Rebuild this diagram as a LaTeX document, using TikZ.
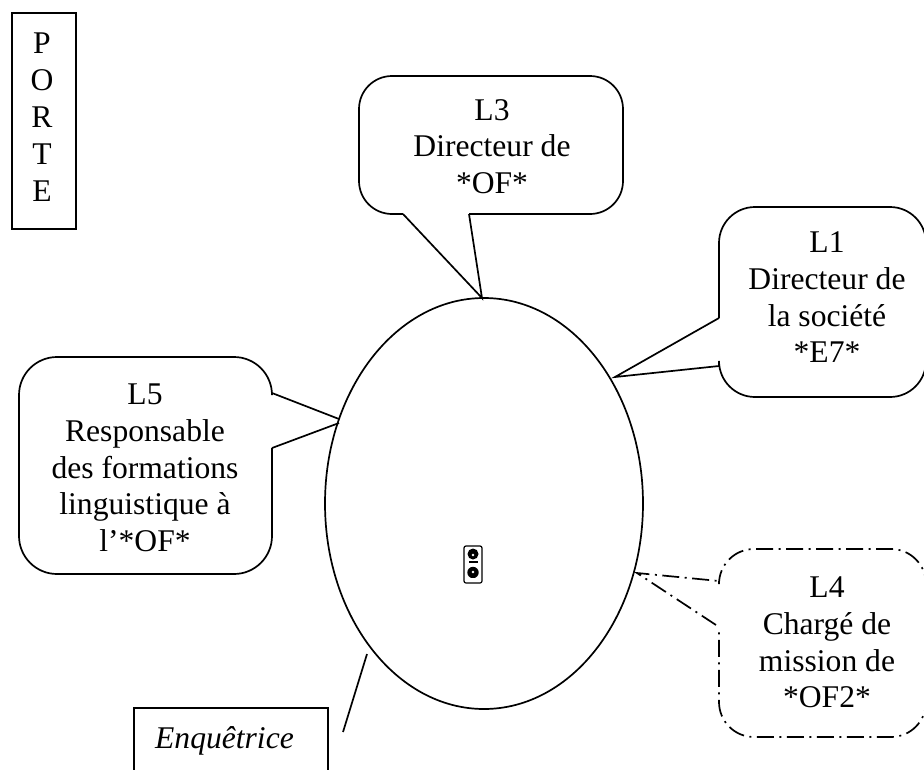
\documentclass[tikz,border=0pt]{standalone}
\usepackage{fontspec}
\setmainfont{Liberation Serif}
\usetikzlibrary{shapes.geometric}
\tikzset{
  outline/.style={draw=black,line width=1.7pt,line join=miter},
  dashline/.style={outline,dash pattern=on 17pt off 5.5pt on 2pt off 5.5pt},
  label/.style={align=center,inner sep=0pt,font=\fontsize{31.6}{36.7}\selectfont},
}
\begin{document}
\begin{tikzpicture}[x=1pt,y=-1pt]
\useasboundingbox (0,0) rectangle (924,769);
\clip (0,0) rectangle (924,769);
\fill[white] (0,0) rectangle (924,769);

% room
\node[ellipse,outline,minimum width=318pt,minimum height=411pt,inner sep=0pt] (room) at (484,503.5) {};

% door
\node[rectangle,outline,line width=2pt,minimum width=64pt,minimum height=216pt,inner sep=0pt] (porte) at (44,121) {};
\node[label,anchor=base] (pp) at (42,53) {P};
\node[label,anchor=base] (po) at (42,90) {O};
\node[label,anchor=base] (pr) at (42,127) {R};
\node[label,anchor=base] (pt) at (42,164) {T};
\node[label,anchor=base] (pe) at (42,201) {E};

% L3
\coordinate (t3) at (482,298);
\draw[outline] (403,214) -- (t3) -- (469,214);
\draw[outline,rounded corners=33pt] (469,214) -- (623,214) -- (623,76) -- (359,76) -- (359,214) -- (403,214);
\node[label] (l3) at (492,146.5) {L3\\Directeur de\\*OF*};

% L1
\coordinate (t1) at (615,377);
\draw[outline] (719,318) -- (t1) -- (719,366);
\draw[outline,rounded corners=36pt] (719,366) -- (719,397) -- (926,397) -- (926,207) -- (719,207) -- (719,318);
\node[label] (l1) at (827,297.5) {L1\\Directeur de\\la société\\*E7*};

% L5
\coordinate (t5a) at (339,419);
\coordinate (t5b) at (339,423);
\draw[outline] (272,393) -- (t5a) (t5b) -- (272,448);
\draw[outline,rounded corners=38pt] (272,448) -- (272,574) -- (19,574) -- (19,357) -- (272,357) -- (272,393);
\node[label] (l5) at (145,468) {L5\\Responsable\\des formations\\linguistique à\\l’*OF*};

% L4
\coordinate (t4) at (637,573);
\draw[dashline] (716,625) -- (t4) -- (719,581);
\draw[dashline,rounded corners=35pt] (719,581) -- (719,549) -- (926,549) -- (926,737) -- (719,737) -- (719,627);
\node[label] (l4) at (827,642.5) {L4\\Chargé de\\mission de\\*OF2*};

% interviewer
\coordinate (e1) at (367,654);
\coordinate (e2) at (343,732);
\draw[outline] (e1) -- (e2);
\draw[outline] (134,790) -- (134,708) -- (328,708) -- (328,790);
\node[label,anchor=base,font=\fontsize{31.6}{36.7}\selectfont\itshape] (enq) at (224.5,748) {Enquêtrice};

% socket
\draw[black,line width=1.2pt,rounded corners=2pt,fill=white] (464,546) rectangle (482,583);
\fill[black] (473,554) circle (5.5pt);
\fill[white] (473,555) circle (1.4pt);
\fill[black] (468.5,561.3) rectangle (477.5,563);
\begin{scope}
\clip (466,566) rectangle (480,577);
\fill[black] (473,572.5) circle (5.7pt);
\end{scope}
\fill[white] (473,572) circle (1.4pt);
\end{tikzpicture}
\end{document}
